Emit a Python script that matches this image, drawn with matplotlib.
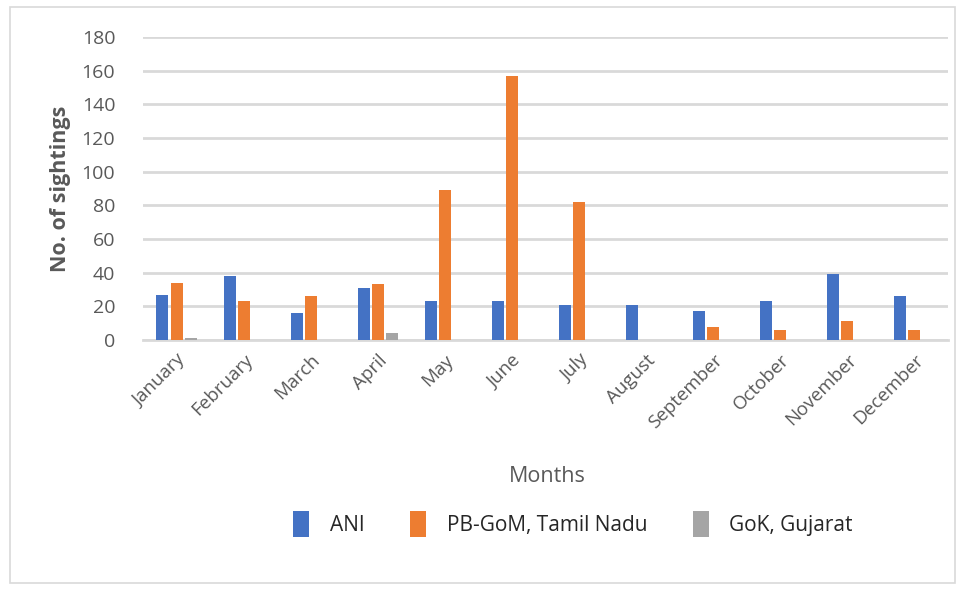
import matplotlib
matplotlib.use("Agg")
import matplotlib.pyplot as plt
import numpy as np
from matplotlib.patches import Rectangle

months = ["January", "February", "March", "April", "May", "June", "July",
          "August", "September", "October", "November", "December"]
ani = [27, 38, 16, 31, 23, 23, 21, 21, 17, 23, 39, 26]
pb_gom = [34, 23, 26, 33, 89, 157, 82, 0, 8, 6, 11, 6]
gok = [1, 0, 0, 4, 0, 0, 0, 0, 0, 0, 0, 0]
series_names = ["ANI", "PB-GoM, Tamil Nadu", "GoK, Gujarat"]
colors = ["#4472C4", "#ED7D31", "#A5A5A5"]
yticks = [0, 20, 40, 60, 80, 100, 120, 140, 160, 180]

plt.rcParams['font.family'] = ['Open Sans', 'DejaVu Sans']

fig = plt.figure(figsize=(9.67, 5.90), dpi=100)
ax = fig.add_axes([143/967, 1-340/590, 805/967, 303/590])

# outer border
fig.patches.append(Rectangle((10/967, 7/590), 945/967, 576/590, transform=fig.transFigure,
                             fill=False, edgecolor="#d9d9d9", linewidth=1.2))

x = np.arange(len(months))
w = 0.18
step = 0.21
for i, (vals, name, c) in enumerate(zip([ani, pb_gom, gok], series_names, colors)):
    ax.bar(x + (i - 1) * step, vals, width=w, color=c, label=name, zorder=3)

ax.set_xlim(-0.5, len(months) - 0.5)
ax.set_ylim(0, 180)
ax.set_yticks(yticks)
ax.yaxis.grid(True, color="#d9d9d9", linewidth=2, zorder=0)
ax.set_axisbelow(True)
for s in ["top", "right", "left"]:
    ax.spines[s].set_visible(False)
ax.spines["bottom"].set_color("#d9d9d9")
ax.spines["bottom"].set_linewidth(2)
ax.tick_params(axis="both", length=0, colors="#595959")
ax.tick_params(axis="y", labelsize=14, pad=20)
ax.set_xticks(x)
ax.set_xticklabels(months, rotation=45, ha="right", rotation_mode="anchor", fontsize=13.5)
ax.tick_params(axis="x", pad=8)

ax.set_ylabel("No. of sightings", fontsize=15.5, color="#595959", fontweight="bold")
ax.yaxis.set_label_coords(-72/805, 0.5)
ax.set_xlabel("Months", fontsize=15.5, color="#595959")
ax.xaxis.set_label_coords((547-143)/805, -(466-340)/303)

leg = fig.legend(loc="center", bbox_to_anchor=(573/967, 1-524/590), ncol=3, frameon=False,
                 fontsize=15, handlelength=0.75, handleheight=1.5, columnspacing=2.2,
                 handletextpad=1.0)
for t in leg.get_texts():
    t.set_color("#262626")

fig.savefig("out.png", dpi=100)
